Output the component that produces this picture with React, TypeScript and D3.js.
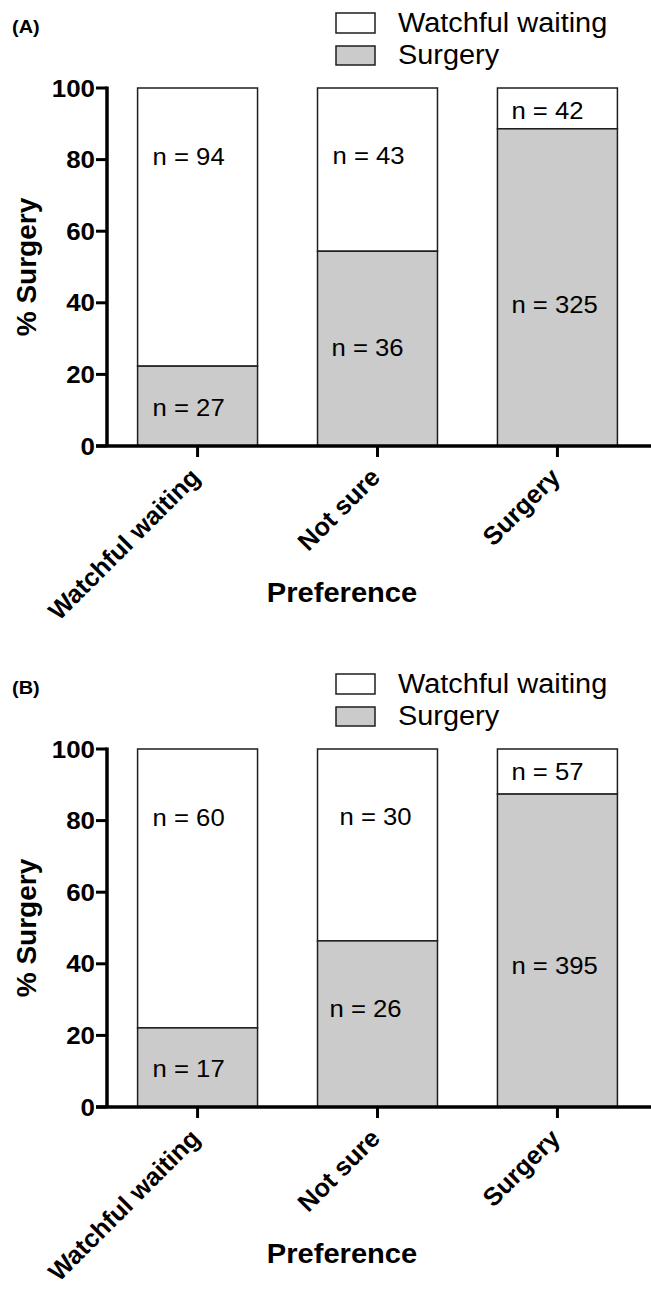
import React from "react";
import * as d3 from "d3";

// ---- data ----
const categories = ["Watchful waiting", "Not sure", "Surgery"];
const legendLabels = ["Watchful waiting", "Surgery"];
const panelLabels = ["(A)", "(B)"];
const yTicks = [0, 20, 40, 60, 80, 100];

// Panel A
const surgeryPctA = [22.3, 54.4, 88.6];
const nWatchfulA = [94, 43, 42];
const nSurgeryA = [27, 36, 325];

// Panel B
const surgeryPctB = [22.1, 46.4, 87.4];
const nWatchfulB = [60, 30, 57];
const nSurgeryB = [17, 26, 395];

// ---- layout constants ----
const W = 651;
const H = 1291;
const PANEL_OFFSETS = [0, 661];
const FONT = "'Liberation Sans', Arial, Helvetica, sans-serif";
const GRAY = "#cbcbcb";
const DARK = "#1e1e1e";
// value-space vertical positions of the n labels (text centre)
const LABEL_Y_WATCHFUL = [80.7, 81, 93.6];
const LABEL_Y_SURGERY = [10.6, 27.5, 39.4];

type PanelProps = {
  offset: number;
  pct: number[];
  nW: number[];
  nS: number[];
  label: string;
  dxW: number[];
  dxS: number[];
};

function HText(props: {
  x: number;
  y: number;
  size: number;
  weight?: string | number;
  anchor?: string;
  sx?: number;
  children: React.ReactNode;
}) {
  const { x, y, size, weight = "normal", anchor = "start", sx = 1, children } = props;
  return (
    <text
      transform={`translate(${x},${y}) scale(${sx},1)`}
      fontFamily={FONT}
      fontSize={size}
      fontWeight={weight}
      textAnchor={anchor}
      fill="#000"
    >
      {children}
    </text>
  );
}

function Panel({ offset, pct, nW, nS, label, dxW, dxS }: PanelProps) {
  const x = d3
    .scaleBand<string>()
    .domain(categories)
    .range([107, 648])
    .paddingInner(1 / 3)
    .paddingOuter(0.17);
  const y = d3.scaleLinear().domain([0, 100]).range([446 + offset, 88 + offset]);
  const axisX = 107;
  const axisY = y(0);
  const bw = x.bandwidth();

  return (
    <g>
      {/* panel label */}
      <HText x={12} y={33 + offset} size={19} weight="bold" sx={1.05}>
        {label}
      </HText>

      {/* legend */}
      <rect x={336} y={13 + offset} width={39} height={20} fill="#fff" stroke={DARK} strokeWidth={1.5} />
      <rect x={336} y={46 + offset} width={39} height={19} fill={GRAY} stroke={DARK} strokeWidth={1.5} />
      <HText x={398} y={32 + offset} size={27} sx={1.07}>
        {legendLabels[0]}
      </HText>
      <HText x={398} y={64 + offset} size={27} sx={1.07}>
        {legendLabels[1]}
      </HText>

      {/* bars */}
      {categories.map((c, i) => {
        const bx = x(c) as number;
        return (
          <g key={c}>
            <rect
              x={bx}
              y={y(100)}
              width={bw}
              height={y(pct[i]) - y(100)}
              fill="#fff"
              stroke={DARK}
              strokeWidth={1.5}
            />
            <rect
              x={bx}
              y={y(pct[i])}
              width={bw}
              height={y(0) - y(pct[i])}
              fill={GRAY}
              stroke={DARK}
              strokeWidth={1.5}
            />
            <HText x={bx + dxW[i]} y={y(LABEL_Y_WATCHFUL[i]) + 8} size={24} sx={1.07}>
              {`n = ${nW[i]}`}
            </HText>
            <HText x={bx + dxS[i]} y={y(LABEL_Y_SURGERY[i]) + 8} size={24} sx={1.07}>
              {`n = ${nS[i]}`}
            </HText>
          </g>
        );
      })}

      {/* y axis */}
      <line x1={axisX} x2={axisX} y1={y(100) - 1.5} y2={axisY} stroke="#000" strokeWidth={3.5} />
      {yTicks.map((t) => (
        <g key={t}>
          <line x1={axisX - 11} x2={axisX} y1={y(t)} y2={y(t)} stroke="#000" strokeWidth={3} />
          <HText x={95} y={y(t) + 8.5} size={24} weight="bold" anchor="end" sx={1.08}>
            {t}
          </HText>
        </g>
      ))}
      <text
        transform={`translate(36,${(y(0) + y(100)) / 2}) rotate(-90)`}
        fontFamily={FONT}
        fontSize={28}
        fontWeight="bold"
        textAnchor="middle"
      >
        % Surgery
      </text>

      {/* x axis */}
      <line x1={axisX - 11} x2={W} y1={axisY} y2={axisY} stroke="#000" strokeWidth={3.5} />
      {categories.map((c) => {
        const cx = (x(c) as number) + bw / 2;
        return (
          <g key={c}>
            <line x1={cx} x2={cx} y1={axisY} y2={axisY + 11} stroke="#000" strokeWidth={3} />
            <text
              transform={`translate(${cx + 4},${axisY + 33}) rotate(-45)`}
              fontFamily={FONT}
              fontSize={25.5}
              fontWeight="bold"
              textAnchor="end"
            >
              {c}
            </text>
          </g>
        );
      })}
      <HText x={342} y={axisY + 156} size={28} weight="bold" anchor="middle" sx={1.04}>
        Preference
      </HText>
    </g>
  );
}

export default function App() {
  return (
    <svg
      width={W}
      height={H}
      viewBox={`0 0 ${W} ${H}`}
      style={{ position: "absolute", left: 0, top: 0, background: "#fff" }}
    >
      <rect x={0} y={0} width={W} height={H} fill="#fff" />
      <Panel
        offset={PANEL_OFFSETS[0]}
        pct={surgeryPctA}
        nW={nWatchfulA}
        nS={nSurgeryA}
        label={panelLabels[0]}
        dxW={[15, 15, 14]}
        dxS={[15, 14, 14]}
      />
      <Panel
        offset={PANEL_OFFSETS[1]}
        pct={surgeryPctB}
        nW={nWatchfulB}
        nS={nSurgeryB}
        label={panelLabels[1]}
        dxW={[15, 22, 14]}
        dxS={[15, 12, 14]}
      />
    </svg>
  );
}
